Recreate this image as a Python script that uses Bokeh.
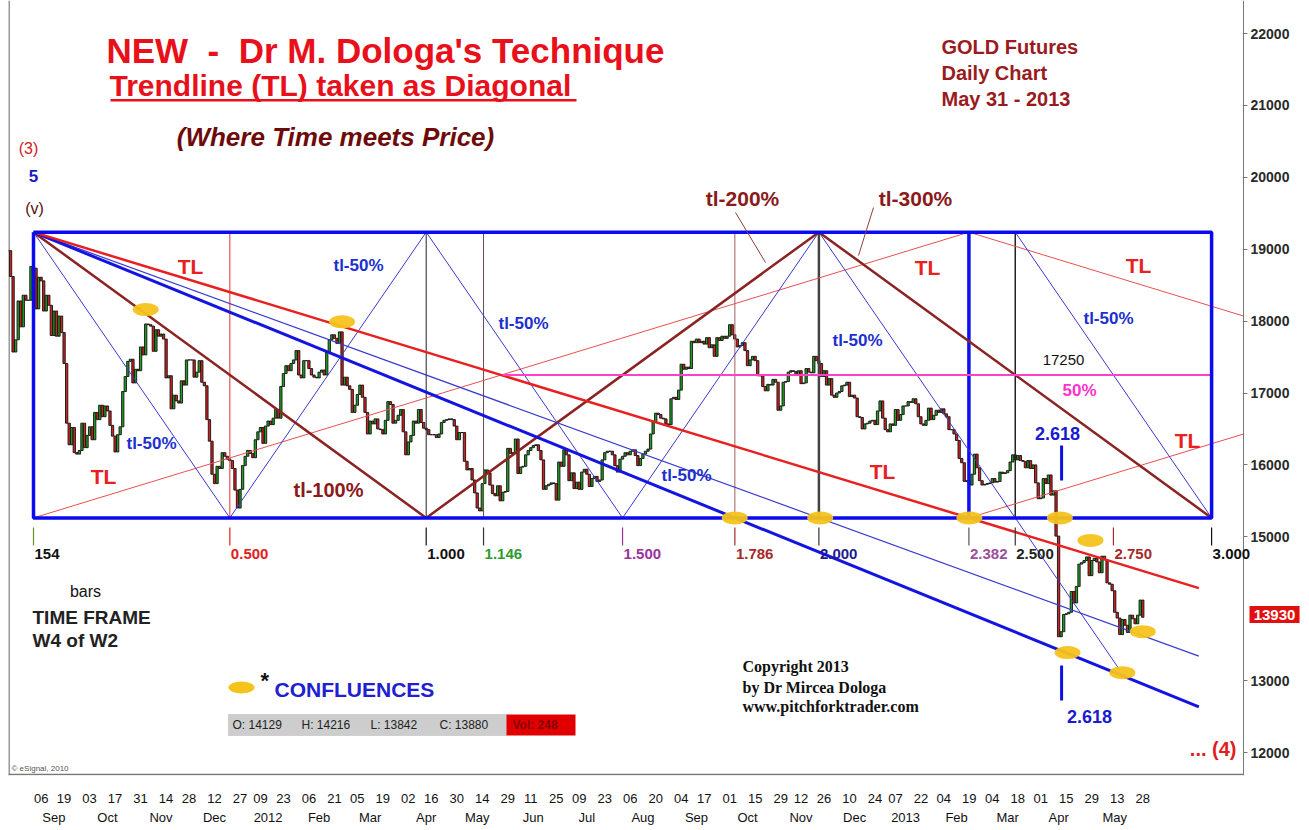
import numpy as np
import pandas as pd
from bokeh.plotting import figure
from bokeh.models import ColumnDataSource, LinearAxis, FixedTicker, Range1d, Label, BoxAnnotation
from bokeh.embed import file_html
from bokeh.resources import INLINE

# ------------------------------------------------------------------ data
holidays = ["2011-09-05", "2011-11-24", "2011-12-26", "2012-01-02", "2012-01-16",
            "2012-02-20", "2012-04-06", "2012-05-28", "2012-07-04", "2012-09-03",
            "2012-10-29", "2012-10-30", "2012-11-22", "2012-12-25", "2013-01-01",
            "2013-01-21", "2013-02-18", "2013-03-29", "2013-05-27"]

# daily closes (price x 10), Aug 22 2011 .. Dec 30 2011
close_2011 = [
    18980, 18620, 17570, 17740, 18280, 17920, 18360, 18290,                      # Aug
    18290, 18760, 18736, 18170, 18610, 18560, 18140, 18360, 18220, 17800, 18140,
    17790, 18070, 17840, 17410, 16580, 16280, 16520, 16170, 16150, 16200,        # Sep
    16580, 16240, 16410, 16530, 16350, 16730, 16630, 16830, 16670, 16820, 16750,
    16550, 16400, 16180, 16420, 16530, 17020, 17230, 17440, 17470, 17140,        # Oct
    17330, 17310, 17640, 17530, 17960, 17950, 17930, 17580, 17880, 17790, 17820,
    17750, 17210, 17240, 16780, 16970, 16890, 16860, 17170, 17110, 17460,        # Nov
    17460, 17460, 17220, 17290, 17450, 17150, 17100, 16630, 16330, 15870, 15740,
    15980, 15950, 16170, 16120, 16080, 16060, 15950, 15650, 15400, 15660,        # Dec
]
close_2012 = [
    15990, 16120, 16200, 16160, 16100, 16350, 16460, 16520, 16300, 16540,
    16610, 16560, 16650, 16770, 16650, 17090, 17270, 17380, 17310, 17410,        # Jan
    17460, 17590, 17250, 17210, 17450, 17450, 17340, 17250, 17220, 17210,
    17290, 17320, 17250, 17570, 17740, 17810, 17760, 17690, 17850, 17110,        # Feb
    17220, 17100, 17050, 16730, 16830, 16980, 17110, 16940, 16730, 16430, 16610,
    16570, 16640, 16500, 16490, 16430, 16620, 16880, 16840, 16580, 16620, 16690, # Mar
    16770, 16460, 16140, 16320, 16410, 16610, 16580, 16770, 16590, 16510,
    16490, 16420, 16420, 16420, 16380, 16430, 16590, 16620, 16630, 16640,        # Apr
    16630, 16540, 16350, 16450, 16450, 16050, 15930, 15950, 15790, 15610, 15400,
    15360, 15740, 15930, 15890, 15720, 15600, 15570, 15710, 15500, 15620, 15630, # May
    16230, 16160, 16170, 16360, 15880, 15970, 15980, 16140, 16200, 16240, 16270,
    16280, 16200, 16070, 15660, 15710, 15730, 15750, 15740, 15510, 16040,        # Jun
    15980, 16210, 16140, 15780, 15890, 15670, 15760, 15660, 15900, 15940, 15870,
    15700, 15810, 15840, 15770, 15790, 16070, 16170, 16190, 16190, 16140,        # Jul
    15990, 15900, 16080, 16120, 16170, 16140, 16190, 16210, 16130, 15990, 16090,
    16150, 16190, 16220, 16430, 16600, 16720, 16700, 16650, 16640, 16570, 16560,
    16920,                                                                       # Aug
    16940, 16910, 17040, 17400, 17330, 17360, 17340, 17720, 17700, 17750,
    17700, 17720, 17680, 17770, 17630, 17670, 17510, 17770, 17730,               # Sep
    17790, 17760, 17790, 17950, 17810, 17750, 17640, 17660, 17700, 17590, 17380,
    17460, 17510, 17450, 17240, 17240, 17090, 17030, 17120, 17110, 17190,        # Oct
    17150, 16760, 16820, 17150, 17160, 17290, 17310, 17300, 17250, 17310, 17130,
    17140, 17340, 17290, 17280, 17510, 17450, 17410, 17230, 17310, 17110,        # Nov
    17200, 16970, 16940, 17000, 17020, 17100, 17110, 17150, 16950, 16970,
    16930, 16670, 16660, 16500, 16570, 16580, 16610, 16620, 16560, 16750,        # Dec
]
close_2013 = [
    16890, 16650, 16490, 16460, 16570, 16550, 16770, 16620, 16700, 16820, 16820,
    16880, 16870, 16920, 16850, 16670, 16570, 16550, 16620, 16790, 16630,        # Jan
    16690, 16760, 16730, 16780, 16710, 16670, 16490, 16490, 16430, 16340,
    16090, 16030, 15770, 15780, 15720, 15870, 16150, 15960, 15780,               # Feb
    15720, 15730, 15740, 15750, 15810, 15760, 15770, 15900, 15880, 15890,
    15920, 16040, 16140, 16070, 16130, 16060, 16050, 15960, 16060, 15950,        # Mar
    16000, 15750, 15530, 15540, 15810, 15740, 15860, 15580, 15640, 15010, 13610,
    13680, 13920, 13930, 13950, 14240, 14080, 14310, 14620, 14640, 14670, 14720, # Apr
    14460, 14670, 14700, 14650, 14500, 14730, 14680, 14360, 14340, 14250, 13950,
    13870, 13640, 13850, 13770, 13670, 13910, 13860, 13790, 13910, 14120, 13880, # May
]

day_tick_dates = ["2011-09-06", "2011-09-19", "2011-10-03", "2011-10-17", "2011-10-31",
                  "2011-11-14", "2011-11-28", "2011-12-12", "2011-12-27", "2012-01-09",
                  "2012-01-23", "2012-02-06", "2012-02-21", "2012-03-05", "2012-03-19",
                  "2012-04-02", "2012-04-16", "2012-04-30", "2012-05-14", "2012-05-29",
                  "2012-06-11", "2012-06-25", "2012-07-09", "2012-07-23", "2012-08-06",
                  "2012-08-20", "2012-09-04", "2012-09-17", "2012-10-01", "2012-10-15",
                  "2012-10-29", "2012-11-12", "2012-11-26", "2012-12-10", "2012-12-24",
                  "2013-01-07", "2013-01-22", "2013-02-04", "2013-02-19", "2013-03-04",
                  "2013-03-18", "2013-04-01", "2013-04-15", "2013-04-29", "2013-05-13",
                  "2013-05-28"]
month_keys = ["2011-09", "2011-10", "2011-11", "2011-12", "2012-01", "2012-02", "2012-03",
              "2012-04", "2012-05", "2012-06", "2012-07", "2012-08", "2012-09", "2012-10",
              "2012-11", "2012-12", "2013-01", "2013-02", "2013-03", "2013-04", "2013-05"]
month_names = ["Sep", "Oct", "Nov", "Dec", "2012", "Feb", "Mar", "Apr", "May", "Jun", "Jul",
               "Aug", "Sep", "Oct", "Nov", "Dec", "2013", "Feb", "Mar", "Apr", "May"]
price_ticks = [12000, 13000, 15000, 16000, 17000, 18000, 19000, 20000, 21000, 22000]

# Dologa time/price box
unit_bars = 154
box_high = 19237
box_low = 15263
level_50 = 17250
ratio_vals = [0.0, 0.5, 1.0, 1.146, 1.5, 1.786, 2.0, 2.382, 2.5, 2.75, 3.0]
ratio_text = ["154", "0.500", "1.000", "1.146", "1.500", "1.786", "2.000", "2.382", "2.500", "2.750", "3.000"]
ratio_label_col = ["#111111", "#e02020", "#111111", "#2e9b2e", "#993399", "#a52a2a",
                   "#1c1c8c", "#9b4f9b", "#222222", "#a52a2a", "#111111"]
ratio_tick_col = ["#6b8e23", "#e02020", "#111111", "#333333", "#993399", "#a52a2a",
                  "#333333", "#555555", "#333333", "#a52a2a", "#111111"]

# confluences (bar offset from the Sep 6 2011 high, price x 10)
conf_bar = [44, 121, 275, 308.5, 367, 402.5, 414.5, 405.5, 427, 435]
conf_price = [18160, 17990, 15263, 15263, 15263, 15263, 14950, 13390, 13110, 13680]

last_ohlc_names = ["O", "H", "L", "C"]
last_ohlc_vals = [14129, 14216, 13842, 13880]
last_price = 13930

# ------------------------------------------------------------------ derived
dates = pd.bdate_range("2011-08-22", "2013-05-31", freq="C", holidays=holidays)
closes = close_2011 + close_2012 + close_2013
n = min(len(dates), len(closes))
dates = dates[:n]
closes = closes[:n]
i0 = int(dates.searchsorted(pd.Timestamp("2011-09-06")))
bars = [i - i0 for i in range(n)]
opens = [closes[0]] + closes[:-1]
src = ColumnDataSource(dict(
    x=bars,
    top=[max(o, c) for o, c in zip(opens, closes)],
    bottom=[min(o, c) for o, c in zip(opens, closes)],
    fill=["#1f9e1f" if c >= o else "#d42020" for o, c in zip(opens, closes)],
))

# pixel layout helpers (bar 0 at 33px, 2.55 px / bar; 22000 at 33px, 0.0719 px / unit)
X0_PX, BAR_PX = 33.0, 2.55
Y0_PX, Y0_VAL, PX_UNIT = 33.0, 22000.0, 0.0719


def dx(px):
    return (px - X0_PX) / BAR_PX


def dy(py):
    return Y0_VAL - (py - Y0_PX) / PX_UNIT


SANS = "Liberation Sans"
SERIF = "Liberation Serif"
AXIS_PX = 1243
RIGHT_PX = 1305
BOTTOM_PX = 775

p = figure(frame_width=RIGHT_PX - 8, frame_height=BOTTOM_PX, output_backend="svg",
           toolbar_location=None, x_axis_type=None, y_axis_type=None,
           x_range=Range1d(dx(8), dx(RIGHT_PX)), y_range=Range1d(dy(BOTTOM_PX), dy(0)),
           min_border_left=8, min_border_top=0, min_border_right=0, min_border_bottom=54)
p.outline_line_color = None
p.background_fill_color = "white"
p.border_fill_color = "white"

# price axis drawn at the chart's right edge
yax = LinearAxis(ticker=FixedTicker(ticks=price_ticks), fixed_location=dx(AXIS_PX),
                 axis_line_color="#777777", major_tick_line_color="#777777",
                 major_tick_out=4, major_tick_in=0, minor_tick_line_color=None,
                 major_label_standoff=3, major_label_text_font=SANS,
                 major_label_text_font_size="14px", major_label_text_font_style="bold",
                 major_label_text_color="#2a2a2a")
p.add_layout(yax, "right")

day_pos = [int(dates.searchsorted(pd.Timestamp(d))) - i0 + 3 for d in day_tick_dates]
dax = LinearAxis(ticker=FixedTicker(ticks=day_pos),
                 major_label_overrides={t: d[-2:] for t, d in zip(day_pos, day_tick_dates)},
                 axis_line_color=None, major_tick_line_color=None, minor_tick_line_color=None,
                 major_tick_out=0, major_tick_in=0,
                 major_label_standoff=18, major_label_text_font=SANS,
                 major_label_text_font_size="13px", major_label_text_color="#111111")
p.add_layout(dax, "below")

month_str = dates.strftime("%Y-%m")
month_pos = []
for k in month_keys:
    idx = [b for b, m in zip(bars, month_str) if m == k]
    month_pos.append(int(round(sum(idx) / len(idx))))
max_ = LinearAxis(ticker=FixedTicker(ticks=month_pos),
                  major_label_overrides={t: m for t, m in zip(month_pos, month_names)},
                  axis_line_color=None, major_tick_line_color=None, minor_tick_line_color=None,
                  major_tick_out=0, major_tick_in=0,
                  major_label_standoff=4, major_label_text_font=SANS,
                  major_label_text_font_size="13px", major_label_text_color="#111111")
p.add_layout(max_, "below")

# chart frame (left and bottom edges)
p.line([dx(8.5), dx(8.5)], [dy(0), dy(BOTTOM_PX)], line_color="#555555", line_width=1.2)
p.line([dx(8), dx(AXIS_PX)], [dy(BOTTOM_PX - 1), dy(BOTTOM_PX - 1)], line_color="#777777", line_width=1.5)

# candles
p.vbar(x="x", width=0.9, top="top", bottom="bottom", fill_color="fill",
       line_color="#111111", line_width=0.9, source=src)

T, H, L = unit_bars, box_high, box_low
end_bar = 457
edge_bar = dx(AXIS_PX)

# vertical time lines inside the box
vl_r = [0.5, 1.0, 1.146, 1.786, 2.0, 2.382, 2.5]
vl_c = ["#e03030", "#222222", "#6b4a4a", "#a0605a", "#444444", "#1010ee", "#222222"]
vl_w = [1, 1, 1, 1, 2.5, 3.5, 1.5]
p.segment(x0=[r * T for r in vl_r], y0=[L] * len(vl_r), x1=[r * T for r in vl_r], y1=[H] * len(vl_r),
          line_color=vl_c, line_width=vl_w)

# thin red mirrored TL lines
s_red = (H - L) / (2.382 * T)
p.line([0, 2.382 * T], [L, H], line_color="#e85050", line_width=1)
p.line([2.382 * T, edge_bar], [H, H - s_red * (edge_bar - 2.382 * T)], line_color="#e85050", line_width=1)
p.line([2.382 * T, edge_bar], [L, L + s_red * (edge_bar - 2.382 * T)], line_color="#e85050", line_width=1)

# tl-50% thin blue zig-zag
s50 = (H - L) / (0.5 * T)
p.line([0, 0.5 * T, T, 1.5 * T, 2 * T], [H, L, H, L, H], line_color="#3a3ad0", line_width=1)
p.line([2 * T, 426], [H, H - s50 * (426 - 2 * T)], line_color="#3a3ad0", line_width=1)
p.line([2.5 * T, 3 * T], [H, L], line_color="#3a3ad0", line_width=1)

# tl-100% brown
p.line([0, T, 2 * T, 3 * T], [H, L, H, L], line_color="#8b2323", line_width=2.5)

# diagonals from the high
p.line([0, end_bar], [H, H - (H - L) / (2.0 * T) * end_bar], line_color="#3a3ad0", line_width=1.2)
p.line([0, end_bar], [H, H - (H - L) / (1.786 * T) * end_bar], line_color="#1414e0", line_width=3)
p.line([0, end_bar], [H, H - s_red * end_bar], line_color="#e82020", line_width=2.5)

# 50% level
p.line([184, 3 * T], [level_50, level_50], line_color="#ff40c8", line_width=2)

# the box
p.line([0, 3 * T, 3 * T, 0, 0], [H, H, L, L, H], line_color="#0a0af0", line_width=3.5)

# ratio ticks + labels under the box
p.segment(x0=[r * T for r in ratio_vals], y0=[dy(527)] * len(ratio_vals),
          x1=[r * T for r in ratio_vals], y1=[dy(545)] * len(ratio_vals),
          line_color=ratio_tick_col, line_width=1.2)
for r, t, c in zip(ratio_vals, ratio_text, ratio_label_col):
    p.add_layout(Label(x=r * T + 0.4, y=dy(553), text=t, text_font=SANS, text_font_size="15px",
                       text_font_style="bold", text_color=c, text_align="left", text_baseline="middle"))

# 2.618 marks
b2618 = 2.618 * T
p.segment(x0=[b2618, b2618], y0=[dy(445), dy(665)], x1=[b2618, b2618], y1=[dy(480), dy(700)],
          line_color="#1010e0", line_width=3)

# pointers for tl-200% / tl-300%
p.segment(x0=[dx(735), dx(873)], y0=[dy(212), dy(207)], x1=[dx(765), dx(858)], y1=[dy(262), dy(255)],
          line_color="#8b4040", line_width=1)

# confluence markers
p.ellipse(x=conf_bar, y=conf_price, width=26, height=13, width_units="screen", height_units="screen",
          fill_color="#f6c21c", line_color=None, fill_alpha=0.95)
p.ellipse(x=[dx(241)], y=[dy(687)], width=26, height=12, width_units="screen", height_units="screen",
          fill_color="#f6c21c", line_color=None)


def put(text, px, py, size, color, style="bold", align="left", font=SANS, bg=None):
    lab = Label(x=dx(px), y=dy(py), text=text, text_font=font, text_font_size=f"{size}px",
                text_color=color, text_font_style=style, text_align=align, text_baseline="middle")
    if bg is not None:
        lab.background_fill_color = bg
    p.add_layout(lab)


NB = "\u00a0"
# titles
put(f"NEW{NB}{NB}-{NB}{NB}Dr M. Dologa's Technique", 106, 50, 35, "#e8101a")
put("Trendline (TL) taken as Diagonal", 109, 85, 30, "#e8101a")
p.add_layout(BoxAnnotation(left=dx(110), right=dx(576), top=dy(98.5), bottom=dy(101),
                           fill_color="#e8101a", fill_alpha=1, line_color=None))
put("(Where Time meets Price)", 335, 136, 26, "#6e0a0a", style="bold italic", align="center")
put("GOLD Futures", 941, 46, 20, "#9a1b1e")
put("Daily Chart", 941, 72, 20, "#9a1b1e")
put("May 31 - 2013", 941, 98, 20, "#9a1b1e")
put("(3)", 28, 148, 16, "#d02020", style="normal", align="center")
put("5", 33, 175, 17, "#1a1ac0", align="center")
put("(v)", 34, 208, 16, "#551111", style="normal", align="center")

put("tl-200%", 742, 198, 21, "#8b1a1a", align="center")
put("tl-300%", 915, 198, 21, "#8b1a1a", align="center")

for (x, y) in [(190, 266), (103, 476), (927, 267), (1138, 265), (1187, 440), (882, 471)]:
    put("TL", x, y, 21, "#e82020", align="center")
for (x, y) in [(358, 265), (523, 323), (151, 443), (857, 340), (686, 475), (1108, 318)]:
    put("tl-50%", x, y, 17, "#2030d0", align="center")
put("tl-100%", 328, 489, 20, "#8b1a1a", align="center")
put("17250", 1063, 359, 15, "#111111", style="normal", align="center")
put("50%", 1079, 390, 17, "#ff33cc", align="center")
put("2.618", 1057, 433, 18, "#1a1ad0", align="center")
put("2.618", 1089, 716, 18, "#1a1ad0", align="center")

put("bars", 85, 591, 16, "#111111", style="normal", align="center")
put("TIME FRAME", 32, 617, 19, "#222222")
put("W4 of W2", 32, 640, 19, "#222222")

put("*", 260, 680, 22, "#111111")
put("CONFLUENCES", 274, 689, 21, "#2020d0")

# last-bar info strip
p.add_layout(BoxAnnotation(left=dx(228), right=dx(506), top=dy(714), bottom=dy(735),
                           fill_color="#cdcdcd", fill_alpha=1, line_color="#9a9a9a"))
p.add_layout(BoxAnnotation(left=dx(506), right=dx(575), top=dy(714), bottom=dy(735),
                           fill_color="#e00000", fill_alpha=1, line_color=None))
for k, (nm, v) in enumerate(zip(last_ohlc_names, last_ohlc_vals)):
    put(f"{nm}: {v}", 232 + k * 69, 724, 12, "#222222", style="normal")
put("Vol: 248", 512, 724, 12, "#8a0000")

put("Copyright 2013", 742, 666, 16, "#111111", font=SERIF)
put("by Dr Mircea Dologa", 742, 687, 16, "#111111", font=SERIF)
put("www.pitchforktrader.com", 742, 706, 16, "#111111", font=SERIF)
put("... (4)", 1236, 748, 20, "#e02020", align="right")
put("\u00a9 eSignal, 2010", 11, 768, 8, "#555555", style="normal")

put(f"{NB}{last_price}{NB}", 1249, 614, 15, "white", bg="#e01010")

open("out.html", "w").write(file_html(p, INLINE))
